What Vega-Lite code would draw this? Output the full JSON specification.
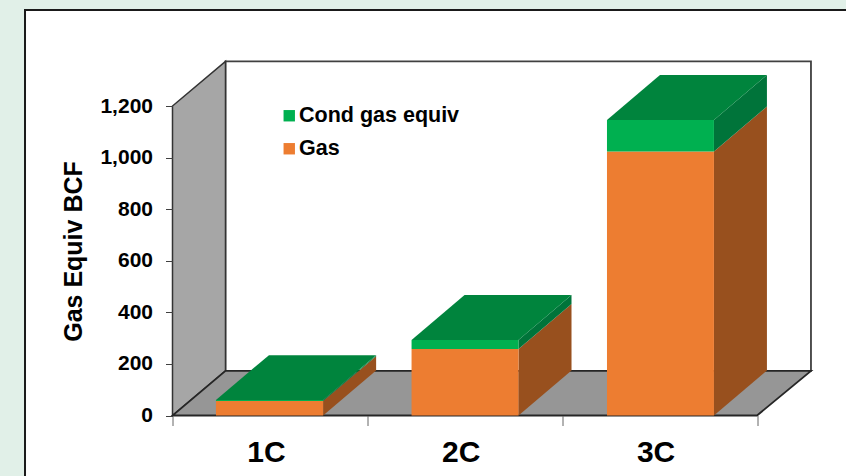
{"$schema":"https://vega.github.io/schema/vega-lite/v6.json","autosize":{"type":"none"},"padding":{"left":172.5,"top":106,"right":89,"bottom":60.5},"width":584.5,"height":309.5,"background":"#E1F0E8","config":{"view":{"stroke":null},"font":"Liberation Sans"},"resolve":{"scale":{"color":"independent"}},"datasets":{"panel":[{"x":-0.757,"x2":3.6,"y":1572,"y2":-320}],"wall":[{"x":0.272,"x2":3.277,"y":173,"y2":1373}],"leftwall":[{"x":0,"y":0,"y2":1200},{"x":0.272,"y":173,"y2":1373}],"floor":[{"y":0,"x":0,"x2":3},{"y":173,"x":0.272,"x2":3.277}],"sides":[{"bar":"1C","part":"Gas side","x":0.773,"y":0,"y2":56},{"bar":"1C","part":"Gas side","x":1.045,"y":174,"y2":230},{"bar":"1C","part":"Cond side","x":0.773,"y":56,"y2":60},{"bar":"1C","part":"Cond side","x":1.045,"y":230,"y2":234},{"bar":"2C","part":"Gas side","x":1.776,"y":0,"y2":258},{"bar":"2C","part":"Gas side","x":2.048,"y":174,"y2":432},{"bar":"2C","part":"Cond side","x":1.776,"y":258,"y2":293},{"bar":"2C","part":"Cond side","x":2.048,"y":432,"y2":467},{"bar":"3C","part":"Gas side","x":2.779,"y":0,"y2":1024},{"bar":"3C","part":"Gas side","x":3.051,"y":174,"y2":1198},{"bar":"3C","part":"Cond side","x":2.779,"y":1024,"y2":1146},{"bar":"3C","part":"Cond side","x":3.051,"y":1198,"y2":1320}],"tops":[{"bar":"1C","y":60,"x":0.223,"x2":0.773},{"bar":"1C","y":234,"x":0.495,"x2":1.045},{"bar":"2C","y":293,"x":1.227,"x2":1.776},{"bar":"2C","y":467,"x":1.499,"x2":2.048},{"bar":"3C","y":1146,"x":2.23,"x2":2.779},{"bar":"3C","y":1320,"x":2.502,"x2":3.051}],"fronts":[{"bar":"1C","part":"Gas","x":0.223,"x2":0.773,"y":0,"y2":56},{"bar":"1C","part":"Cond gas equiv","x":0.223,"x2":0.773,"y":56,"y2":60},{"bar":"2C","part":"Gas","x":1.227,"x2":1.776,"y":0,"y2":258},{"bar":"2C","part":"Cond gas equiv","x":1.227,"x2":1.776,"y":258,"y2":293},{"bar":"3C","part":"Gas","x":2.23,"x2":2.779,"y":0,"y2":1024},{"bar":"3C","part":"Cond gas equiv","x":2.23,"x2":2.779,"y":1024,"y2":1146}]},"encoding":{"x":{"field":"x","type":"quantitative","stack":null,"scale":{"domain":[0,3],"nice":false,"zero":false},"axis":{"zindex":1,"values":[0,0.5,1,1.5,2,2.5,3],"labelExpr":"datum.value==0.5?'1C':datum.value==1.5?'2C':datum.value==2.5?'3C':''","title":null,"grid":false,"domain":false,"tickSize":10,"tickColor":"#666666","tickOpacity":{"expr":"datum.value%1===0?1:0"},"labelFontSize":30,"labelFontWeight":"bold","labelColor":"#000000","labelFont":"Liberation Sans","labelPadding":12,"labelOffset":-4,"labelOverlap":false,"labelFlush":false,"labelBound":false}},"y":{"field":"y","type":"quantitative","stack":null,"scale":{"domain":[0,1200],"nice":false,"zero":false},"axis":{"zindex":1,"values":[0,200,400,600,800,1000,1200],"format":",.0f","title":"Gas Equiv BCF","titleFont":"Liberation Sans","titleFontSize":25,"titleFontWeight":"bold","titleColor":"#000000","titleX":-99.5,"titleY":145,"titleBaseline":"middle","titleAlign":"center","grid":false,"domain":false,"tickSize":7,"tickColor":"#404040","labelFontSize":21,"labelFontWeight":"bold","labelColor":"#000000","labelFont":"Liberation Sans","labelPadding":13,"labelOverlap":false,"labelBound":false}}},"layer":[{"data":{"name":"panel"},"mark":{"type":"rect","fill":"#FFFFFF","stroke":"#1A1A1A","strokeWidth":2},"encoding":{"x2":{"field":"x2"},"y2":{"field":"y2"}}},{"data":{"name":"wall"},"mark":{"type":"rect","fill":"#FFFFFF","stroke":"#404040","strokeWidth":1.8},"encoding":{"x2":{"field":"x2"},"y2":{"field":"y2"}}},{"data":{"name":"leftwall"},"mark":{"type":"area","orient":"vertical","fill":"#A6A6A6","stroke":"#333333","strokeWidth":1.5},"encoding":{"y2":{"field":"y2"}}},{"data":{"name":"floor"},"mark":{"type":"area","orient":"horizontal","fill":"#969696","stroke":"#262626","strokeWidth":1.8},"encoding":{"x2":{"field":"x2"}}},{"data":{"name":"sides"},"mark":{"type":"area","orient":"vertical"},"encoding":{"y2":{"field":"y2"},"detail":{"field":"bar"},"color":{"field":"part","type":"nominal","legend":null,"scale":{"domain":["Cond side","Gas side"],"range":["#00743A","#98501E"]}}}},{"data":{"name":"tops"},"mark":{"type":"area","orient":"horizontal","fill":"#00843D"},"encoding":{"x2":{"field":"x2"},"detail":{"field":"bar"}}},{"data":{"name":"fronts"},"mark":{"type":"rect"},"encoding":{"x2":{"field":"x2"},"y2":{"field":"y2"},"color":{"field":"part","type":"nominal","scale":{"domain":["Cond gas equiv","Gas"],"range":["#00B050","#ED7D31"]},"legend":{"title":null,"orient":"none","legendX":106,"legendY":-1,"symbolType":"square","symbolSize":130,"symbolStrokeWidth":0,"labelFontSize":21.5,"labelFontWeight":"bold","labelColor":"#000000","labelFont":"Liberation Sans","rowPadding":10,"labelOffset":-1,"labelLimit":300,"zindex":1}}}}]}
